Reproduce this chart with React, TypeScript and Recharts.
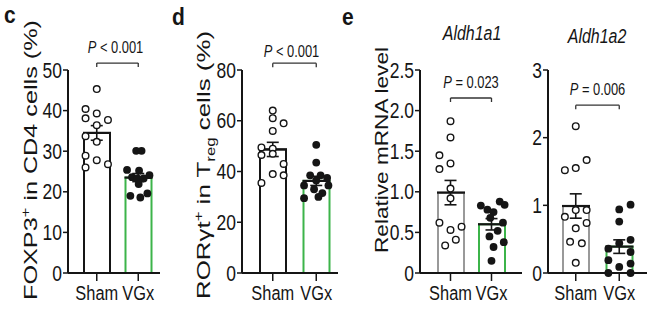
import React from 'react';
import { ComposedChart, Bar, XAxis, YAxis, Scatter, ErrorBar, ReferenceLine } from 'recharts';

const SANS = "'Liberation Sans', Arial, sans-serif";
const GREEN = '#3cb44a';
const INK = '#151515';

const groups = ['Sham', 'VGx'];

// Panel c: FOXP3+ in CD4 cells (%)
const cMeans = [34.5, 23.5];
const cSems = [1.8, 1.0];
const cShamVals = [45.3, 40.4, 38.1, 39.3, 37.7, 36.4, 33.7, 32.3, 28.9, 27.8, 26.8, 26.0];
const cShamJit = [0, -0.27, -0.27, 0, 0.27, 0, -0.27, 0, -0.27, 0, 0.27, -0.27];
const cVgxVals = [30.1, 30.1, 25.4, 25.2, 24.1, 23.6, 23.3, 23.3, 21.9, 19.0, 19.6, 18.6];
const cVgxJit = [-0.05, 0.08, -0.27, 0.02, 0.27, -0.15, -0.02, 0.13, 0.01, -0.19, 0.22, 0.05];
const cTicks = [0, 10, 20, 30, 40, 50];

// Panel d: RORγt+ in Treg cells (%)
const dMeans = [48.7, 36.3];
const dSems = [2.8, 1.8];
const dShamVals = [64, 61, 59, 56, 49.5, 49, 47, 46.5, 43, 39, 38.5, 35.5];
const dShamJit = [0, 0, 0.25, 0, -0.26, 0, 0, -0.26, 0.25, 0, 0.25, -0.26];
const dVgxVals = [50.5, 43.5, 38.5, 38.5, 37.5, 36.5, 34.5, 34.5, 33, 31.5, 29.5, 30];
const dVgxJit = [0, 0, -0.14, 0.1, 0.25, 0, -0.28, 0.28, -0.05, 0.14, -0.28, 0.05];
const dTicks = [0, 20, 40, 60, 80];

// Panel e: Aldh1a1 relative mRNA level
const e1Means = [0.99, 0.6];
const e1Sems = [0.15, 0.07];
const e1ShamVals = [1.87, 1.67, 1.45, 1.35, 1.28, 1.04, 0.92, 0.62, 0.53, 0.57, 0.41, 0.34];
const e1ShamJit = [0, 0, -0.27, 0, -0.27, 0, 0, -0.27, 0, 0.27, 0.13, -0.13];
const e1VgxVals = [0.88, 0.83, 0.84, 0.78, 0.75, 0.68, 0.62, 0.52, 0.45, 0.38, 0.32, 0.15];
const e1VgxJit = [0.2, -0.26, 0.32, -0.1, 0.05, -0.03, 0.28, 0.15, -0.05, 0.3, 0.05, 0];
const e1Ticks = [0, 0.5, 1.0, 1.5, 2.0, 2.5];

// Panel e: Aldh1a2 relative mRNA level
const e2Means = [0.99, 0.39];
const e2Sems = [0.18, 0.1];
const e2ShamVals = [2.17, 1.67, 1.55, 1.52, 0.93, 0.93, 0.83, 0.74, 0.66, 0.46, 0.44, 0.15];
const e2ShamJit = [0, 0.25, 0, -0.25, 0, 0.25, -0.25, 0.25, 0, -0.13, 0.14, 0];
const e2VgxVals = [1.01, 0.94, 0.76, 0.49, 0.44, 0.36, 0.31, 0.19, 0.14, 0.09, 0.0, 0.0];
const e2VgxJit = [0.26, 0, 0, 0.26, 0, -0.25, 0.26, -0.25, 0.26, 0, -0.25, 0.26];
const e2Ticks = [0, 1, 2, 3];

const pTexts = ['< 0.001', '< 0.001', '= 0.023', '= 0.006'];

type STextProps = {
  x: number; y: number; size: number; sx: number; sy: number; anchor?: string;
  italic?: boolean; bold?: boolean; dy?: string; children?: React.ReactNode;
};
function SText({ x, y, size, sx, sy, anchor = 'start', italic, bold, dy, children }: STextProps) {
  return (
    <g transform={`translate(${x},${y}) scale(${sx},${sy})`}>
      <text x={0} y={0} dy={dy} textAnchor={anchor as any} fontFamily={SANS} fontSize={size}
        fontStyle={italic ? 'italic' : 'normal'} fontWeight={bold ? 'bold' : 'normal'} fill={INK}>
        {children}
      </text>
    </g>
  );
}

type PanelProps = {
  left: number; width: number; plotLeft: number; plotRight: number;
  padL: number; padR: number; ticks: number[]; fmt: (v: number) => string;
  means: number[]; sems: number[]; shamVals: number[]; shamJit: number[];
  vgxVals: number[]; vgxJit: number[]; shamStroke: string; barSize: number;
  bracketY: number; textDy: number; textDx: number; pText: string; yAxisW: number;
};

function Panel(p: PanelProps) {
  const bars = groups.map((g, i) => ({ name: g, mean: p.means[i], sem: p.sems[i] }));
  const sham = p.shamVals.map((v, k) => ({ x: 0.5 + p.shamJit[k], y: v }));
  const vgx = p.vgxVals.map((v, k) => ({ x: 1.5 + p.vgxJit[k], y: v }));
  const meanPts = groups.map((g, i) => ({ x: 0.5 + i, y: p.means[i], e: p.sems[i] }));
  const top = 70;
  const bottom = 273;
  const xH = 30;
  const domainMax = p.ticks[p.ticks.length - 1];
  const BarShape = (s: any) => {
    const name = s.payload?.name ?? s.name;
    const stroke = name === 'Sham' ? p.shamStroke : GREEN;
    return (
      <g>
        <rect x={s.x + 1} y={s.y} width={s.width - 2} height={s.height} fill="#fff" stroke={stroke} strokeWidth={2} />
        <line x1={s.x} x2={s.x + s.width} y1={s.y} y2={s.y} stroke={INK} strokeWidth={2.2} />
      </g>
    );
  };
  const bracketLabel = (lp: any) => {
    const vb = lp.viewBox || {};
    const x = vb.x, y = vb.y, w = vb.width;
    return (
      <g>
        <line x1={x} x2={x} y1={y} y2={y + 4} stroke="#333" strokeWidth={1.3} />
        <line x1={x + w} x2={x + w} y1={y} y2={y + 4} stroke="#333" strokeWidth={1.3} />
        <SText x={x + w / 2 + p.textDx} y={y - p.textDy} size={15} sx={0.86} sy={1.05} anchor="middle">
          <tspan fontStyle="italic">P</tspan>
          <tspan> {p.pText}</tspan>
        </SText>
      </g>
    );
  };
  const XTick = (t: any) => (
    <SText x={t.x} y={t.y} size={20} sx={0.82} sy={1.05} anchor="middle" dy="0.71em">{t.payload.value}</SText>
  );
  const YTick = (t: any) => (
    <SText x={t.x} y={t.y} size={19} sx={0.92} sy={1.12} anchor="end" dy="0.36em">{p.fmt(t.payload.value)}</SText>
  );
  return (
    <div style={{ position: 'absolute', left: p.left, top: 0 }}>
      <ComposedChart
        width={p.width}
        height={322}
        data={bars}
        margin={{ top, right: p.left + p.width - p.plotRight, bottom: 322 - bottom - xH, left: p.plotLeft - p.left - p.yAxisW }}
      >
        <XAxis
          xAxisId="c"
          dataKey="name"
          type="category"
          padding={{ left: p.padL, right: p.padR }}
          height={xH}
          interval={0}
          tickSize={8}
          tickMargin={4}
          axisLine={{ stroke: INK, strokeWidth: 2 }}
          tickLine={{ stroke: INK, strokeWidth: 1.5 }}
          tick={XTick}
        />
        <XAxis xAxisId="n" dataKey="x" type="number" domain={[0, 2]} allowDataOverflow hide padding={{ left: p.padL, right: p.padR }} />
        <YAxis
          type="number"
          domain={[0, domainMax]}
          ticks={p.ticks}
          interval={0}
          width={p.yAxisW}
          tickSize={5}
          tickMargin={1}
          axisLine={{ stroke: INK, strokeWidth: 2 }}
          tickLine={{ stroke: INK, strokeWidth: 1.5 }}
          tick={YTick}
        />
        <Bar xAxisId="c" dataKey="mean" barSize={p.barSize} isAnimationActive={false} shape={BarShape} />
        <Scatter
          xAxisId="n"
          data={sham}
          dataKey="y"
          isAnimationActive={false}
          shape={(s: any) => <circle cx={s.cx} cy={s.cy} r={3.3} fill="#fff" stroke={INK} strokeWidth={1.4} />}
        />
        <Scatter
          xAxisId="n"
          data={vgx}
          dataKey="y"
          isAnimationActive={false}
          shape={(s: any) => <circle cx={s.cx} cy={s.cy} r={3.9} fill={INK} stroke="none" />}
        />
        <Scatter xAxisId="n" data={meanPts} dataKey="y" isAnimationActive={false} shape={() => <g />}>
          <ErrorBar dataKey="e" direction="y" width={6} stroke={INK} strokeWidth={1.6} />
        </Scatter>
        <ReferenceLine
          xAxisId="n"
          segment={[{ x: 0.5, y: p.bracketY }, { x: 1.5, y: p.bracketY }]}
          stroke="#333"
          strokeWidth={1.3}
          ifOverflow="visible"
          label={bracketLabel}
        />
      </ComposedChart>
    </div>
  );
}

const fmtInt = (v: number) => String(v);
const fmtDec = (v: number) => (v === 0 ? '0' : v.toFixed(1));

export default function App() {
  return (
    <div style={{ position: 'absolute', left: 0, top: 0, width: 650, height: 322, background: '#fff', overflow: 'hidden' }}>
      <Panel left={0} width={170} plotLeft={68} plotRight={160} padL={8} padR={1} ticks={cTicks} fmt={fmtInt}
        means={cMeans} sems={cSems} shamVals={cShamVals} shamJit={cShamJit} vgxVals={cVgxVals} vgxJit={cVgxJit}
        shamStroke={INK} barSize={28} bracketY={51.7} textDy={10} textDx={-2} pText={pTexts[0]} yAxisW={30} />
      <Panel left={170} width={170} plotLeft={242} plotRight={338} padL={9} padR={0} ticks={dTicks} fmt={fmtInt}
        means={dMeans} sems={dSems} shamVals={dShamVals} shamJit={dShamJit} vgxVals={dVgxVals} vgxJit={dVgxJit}
        shamStroke={INK} barSize={28} bracketY={82.7} textDy={6} textDx={-3} pText={pTexts[1]} yAxisW={30} />
      <Panel left={340} width={185} plotLeft={420} plotRight={522} padL={10} padR={10} ticks={e1Ticks} fmt={fmtDec}
        means={e1Means} sems={e1Sems} shamVals={e1ShamVals} shamJit={e1ShamJit} vgxVals={e1VgxVals} vgxJit={e1VgxJit}
        shamStroke="#999" barSize={28} bracketY={2.155} textDy={10} textDx={0} pText={pTexts[2]} yAxisW={30} />
      <Panel left={525} width={125} plotLeft={548} plotRight={647} padL={6} padR={6} ticks={e2Ticks} fmt={fmtInt}
        means={e2Means} sems={e2Sems} shamVals={e2ShamVals} shamJit={e2ShamJit} vgxVals={e2VgxVals} vgxJit={e2VgxJit}
        shamStroke="#999" barSize={28} bracketY={2.48} textDy={10} textDx={0} pText={pTexts[3]} yAxisW={20} />
      <svg width={650} height={322} style={{ position: 'absolute', left: 0, top: 0, pointerEvents: 'none' }}>
        <SText x={4} y={23} size={21} sx={1} sy={1.15} bold>c</SText>
        <SText x={172} y={25} size={21} sx={1} sy={1.15} bold>d</SText>
        <SText x={342} y={25} size={21} sx={1} sy={1.15} bold>e</SText>
        <text transform="translate(37,160) rotate(-90)" textAnchor="middle" fontFamily={SANS} fontSize={18.5} fill={INK}
          textLength={280} lengthAdjust="spacingAndGlyphs">
          FOXP3<tspan baselineShift="super" fontSize={12}>+</tspan> in CD4 cells (%)
        </text>
        <g transform="translate(210,165) rotate(-90) scale(1.4,1)">
          <text x={0} y={0} textAnchor="middle" fontFamily={SANS} fontSize={18.5} fill={INK}>
            RORγt<tspan dy={-7} fontSize={12}>+</tspan><tspan dy={7}> in T</tspan><tspan dy={5} fontSize={12}>reg</tspan><tspan dy={-5}> cells (%)</tspan>
          </text>
        </g>
        <text transform="translate(388,150) rotate(-90)" textAnchor="middle" fontFamily={SANS} fontSize={18.5} fill={INK}
          textLength={206} lengthAdjust="spacingAndGlyphs">
          Relative mRNA level
        </text>
        <SText x={472} y={40} size={19} sx={0.84} sy={1.05} anchor="middle" italic>Aldh1a1</SText>
        <SText x={597} y={43} size={19} sx={0.84} sy={1.05} anchor="middle" italic>Aldh1a2</SText>
      </svg>
    </div>
  );
}
